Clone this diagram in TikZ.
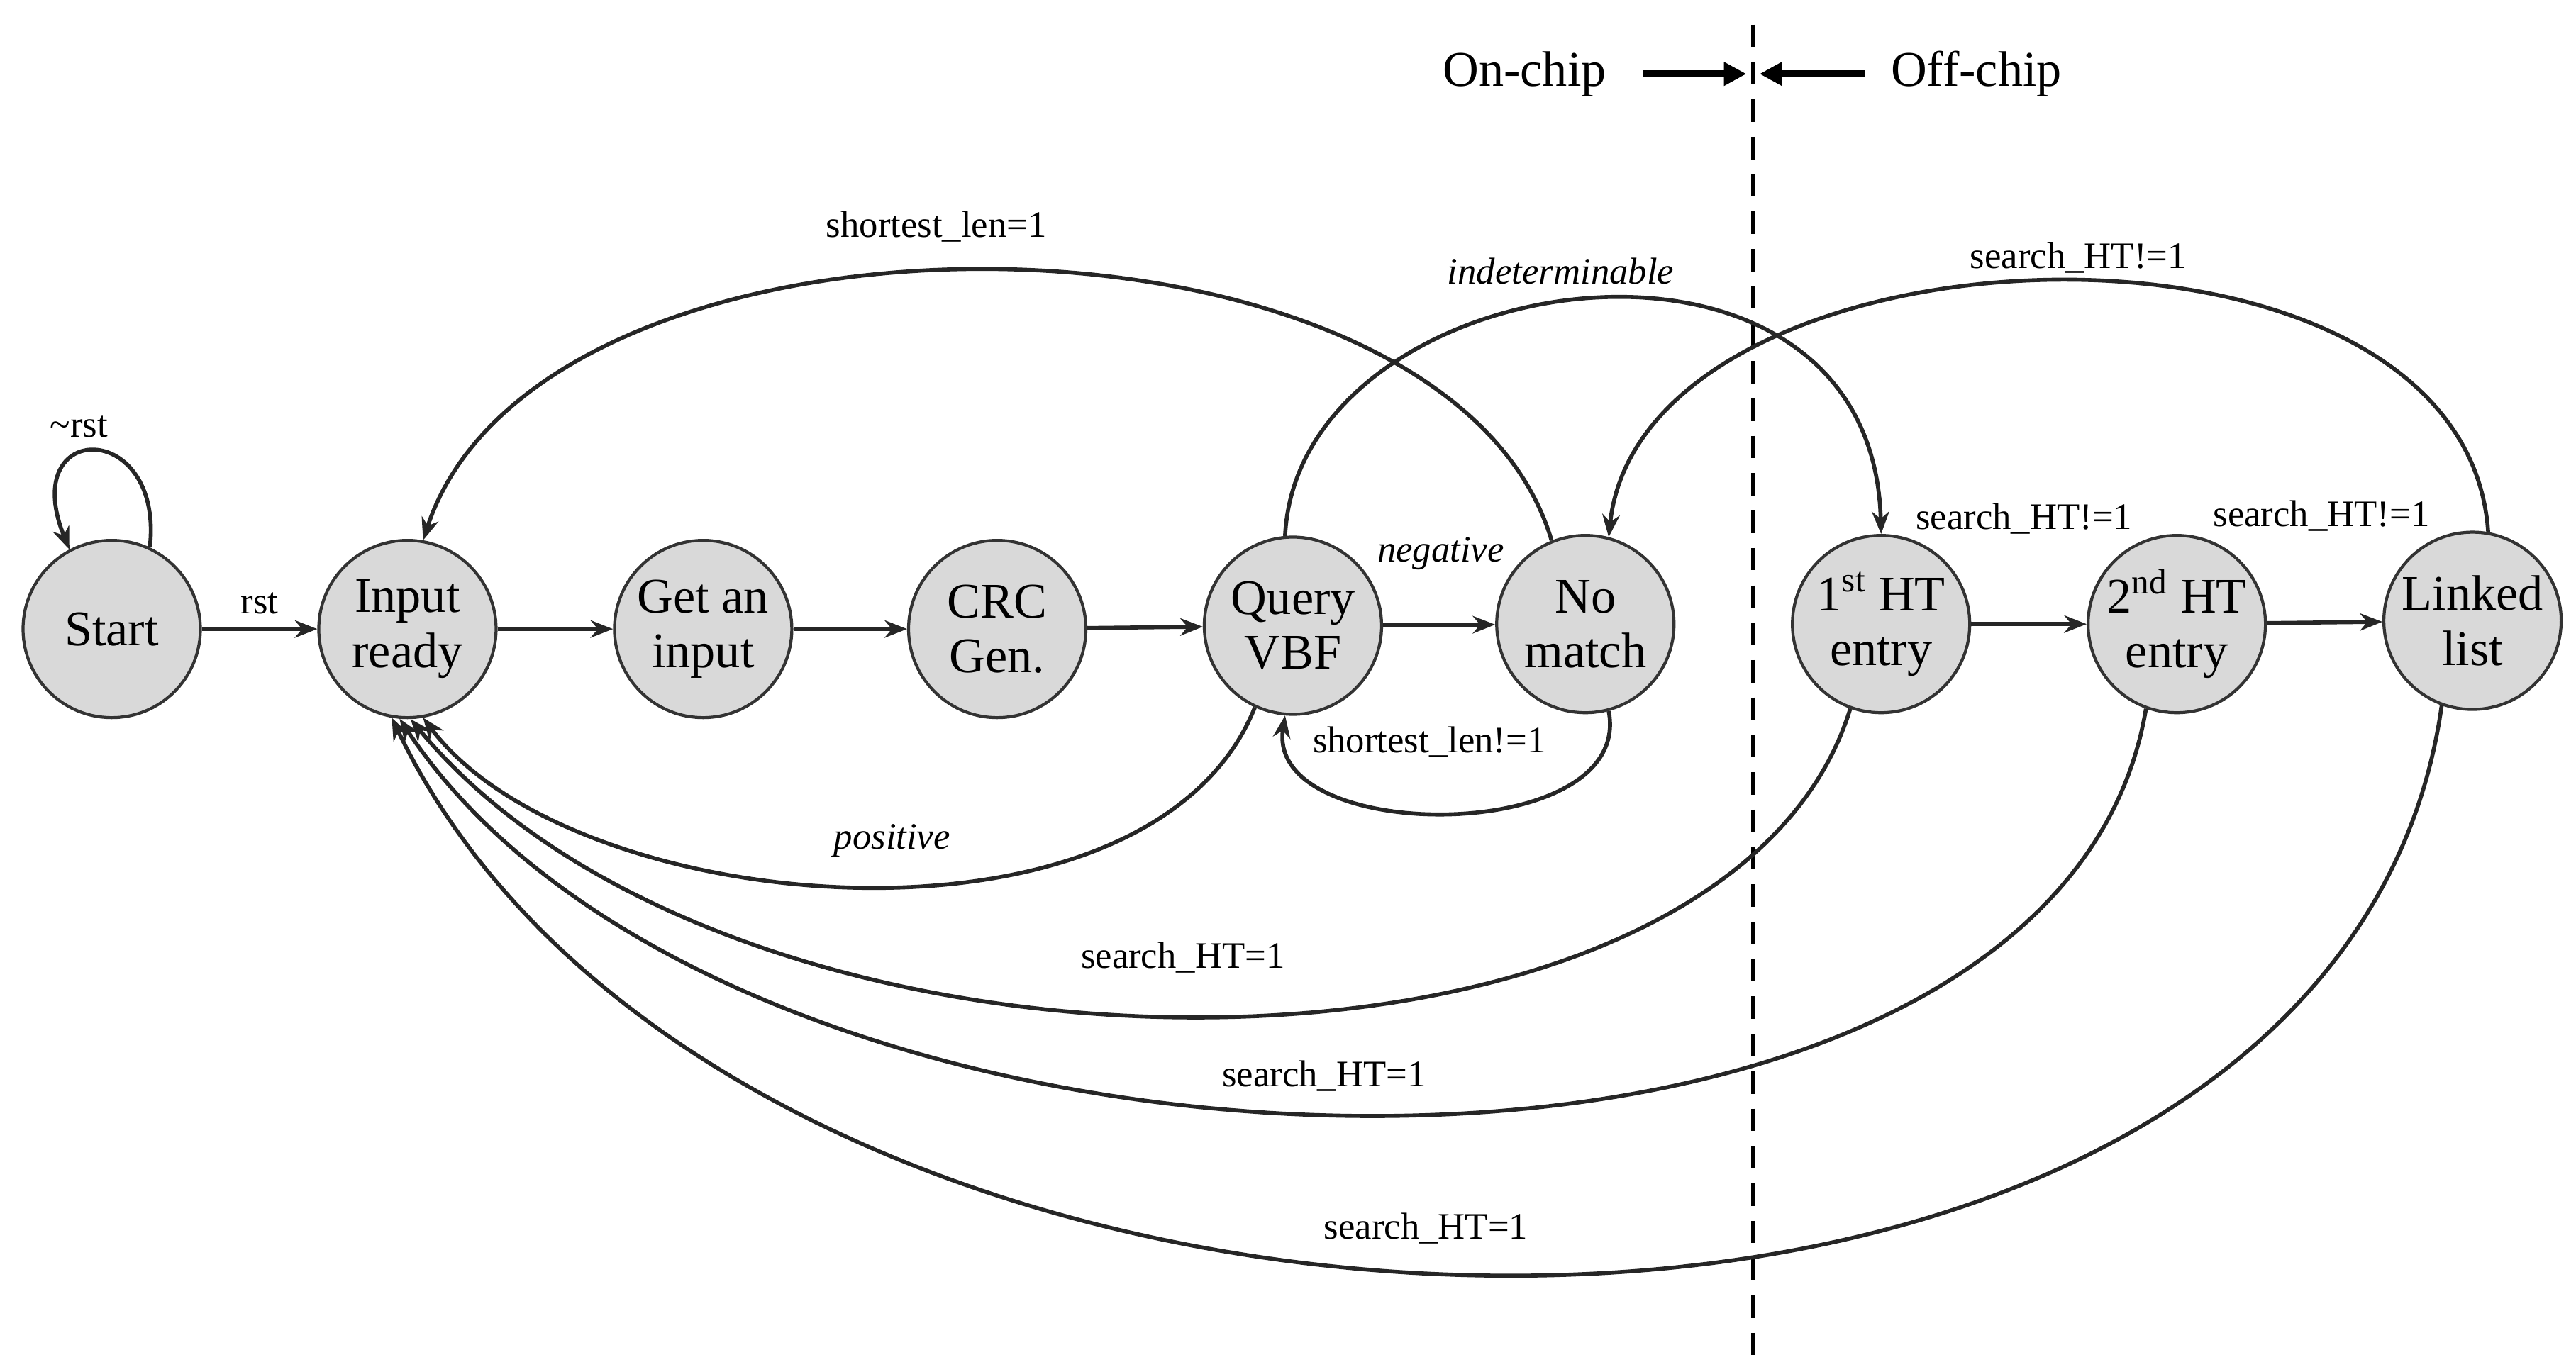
\documentclass[tikz,border=0pt]{standalone}
\usepackage{fontspec}
\setmainfont{Liberation Serif}
\usetikzlibrary{arrows.meta}
\begin{document}
\begin{tikzpicture}[x=0.02316cm,y=-0.02316cm,
  st/.style={circle,draw=black!80,line width=1.2pt,fill=black!15,minimum size=2.5cm,inner sep=0pt,align=center,font=\fontsize{20}{22}\selectfont},
  ed/.style={line width=1.6pt,draw=black!85,-{Stealth[length=9pt,width=7pt]}},
  lb/.style={font=\fontsize{15}{17}\selectfont}]
\useasboundingbox (0,0) rectangle (1568,832);
\node[st] (s) at (68,383) {Start};
\node[st] (in) at (248,383) {Input\\ready};
\node[st] (g) at (428,383) {Get an\\input};
\node[st] (c) at (607,383) {CRC\\Gen.};
\node[st] (q) at (787,381) {Query\\VBF};
\node[st] (nm) at (965,380) {No\\match};
\node[st] (h1) at (1145,380) {1\textsuperscript{st} HT\\entry};
\node[st] (h2) at (1325,380) {2\textsuperscript{nd} HT\\entry};
\node[st] (ll) at (1505,378) {Linked\\list};
\coordinate (d1) at (1067,15); \coordinate (d2) at (1067,825);
\draw[line width=1.6pt,dash pattern=on 9pt off 6pt] (d1) -- (d2);
\node[font=\fontsize{20}{22}\selectfont] (on) at (928,45) {On-chip};
\node[font=\fontsize{20}{22}\selectfont] (off) at (1203,45) {Off-chip};
\coordinate (a1) at (1000,45); \coordinate (a2) at (1063,45);
\coordinate (b1) at (1135,45); \coordinate (b2) at (1071,45);
\draw[line width=3pt,-{Triangle[length=9pt,width=9pt]}] (a1) -- (a2);
\draw[line width=3pt,-{Triangle[length=9pt,width=9pt]}] (b1) -- (b2);
% straight edges
\draw[ed] (s) -- node[lb,above=2pt]{rst} (in);
\draw[ed] (in) -- (g);
\draw[ed] (g) -- (c);
\draw[ed] (c) -- (q);
\draw[ed] (q) -- (nm);
\node[lb,font=\fontsize{15}{17}\selectfont\itshape] (neg) at (877,337) {negative};
\draw[ed] (h1) -- (h2);
\draw[ed] (h2) -- (ll);
\node[lb] (l1) at (1232,316) {search\_HT!=1};
\node[lb] (l2) at (1413,314) {search\_HT!=1};
% self loop
\draw[ed] (s.65) .. controls (100,255) and (10,255) .. (s.118);
\node[lb] (lr) at (48,260) {\textasciitilde rst};
% arcs above
\draw[ed] (nm.112) .. controls (880,112) and (330,108) .. (in.80);
\node[lb] (sl) at (570,138) {shortest\_len=1};
\draw[ed] (q.95) .. controls (790,160) and (1140,110) .. (h1.90);
\node[lb,font=\fontsize{15}{17}\selectfont\itshape] (ind) at (950,165) {indeterminable};
\draw[ed] (ll.80) .. controls (1500,110) and (1000,130) .. (nm.75);
\node[lb] (sh) at (1265,157) {search\_HT!=1};
% below
\draw[ed] (nm.-75) .. controls (995,515) and (770,515) .. (q.-95);
\node[lb] (sln) at (870,452) {shortest\_len!=1};
\draw[ed] (q.-115) .. controls (700,590) and (350,560) .. (in.-80);
\node[lb,font=\fontsize{15}{17}\selectfont\itshape] (pos) at (543,512) {positive};
\draw[ed] (h1.-110) .. controls (1050,680) and (450,680) .. (in.-88);
\node[lb] (s1) at (720,583) {search\_HT=1};
\draw[ed] (h2.-110) .. controls (1250,770) and (450,750) .. (in.-95);
\node[lb] (s2) at (806,655) {search\_HT=1};
\draw[ed] (ll.-110) .. controls (1420,900) and (450,880) .. (in.-100);
\node[lb] (s3) at (868,748) {search\_HT=1};
\end{tikzpicture}
\end{document}
